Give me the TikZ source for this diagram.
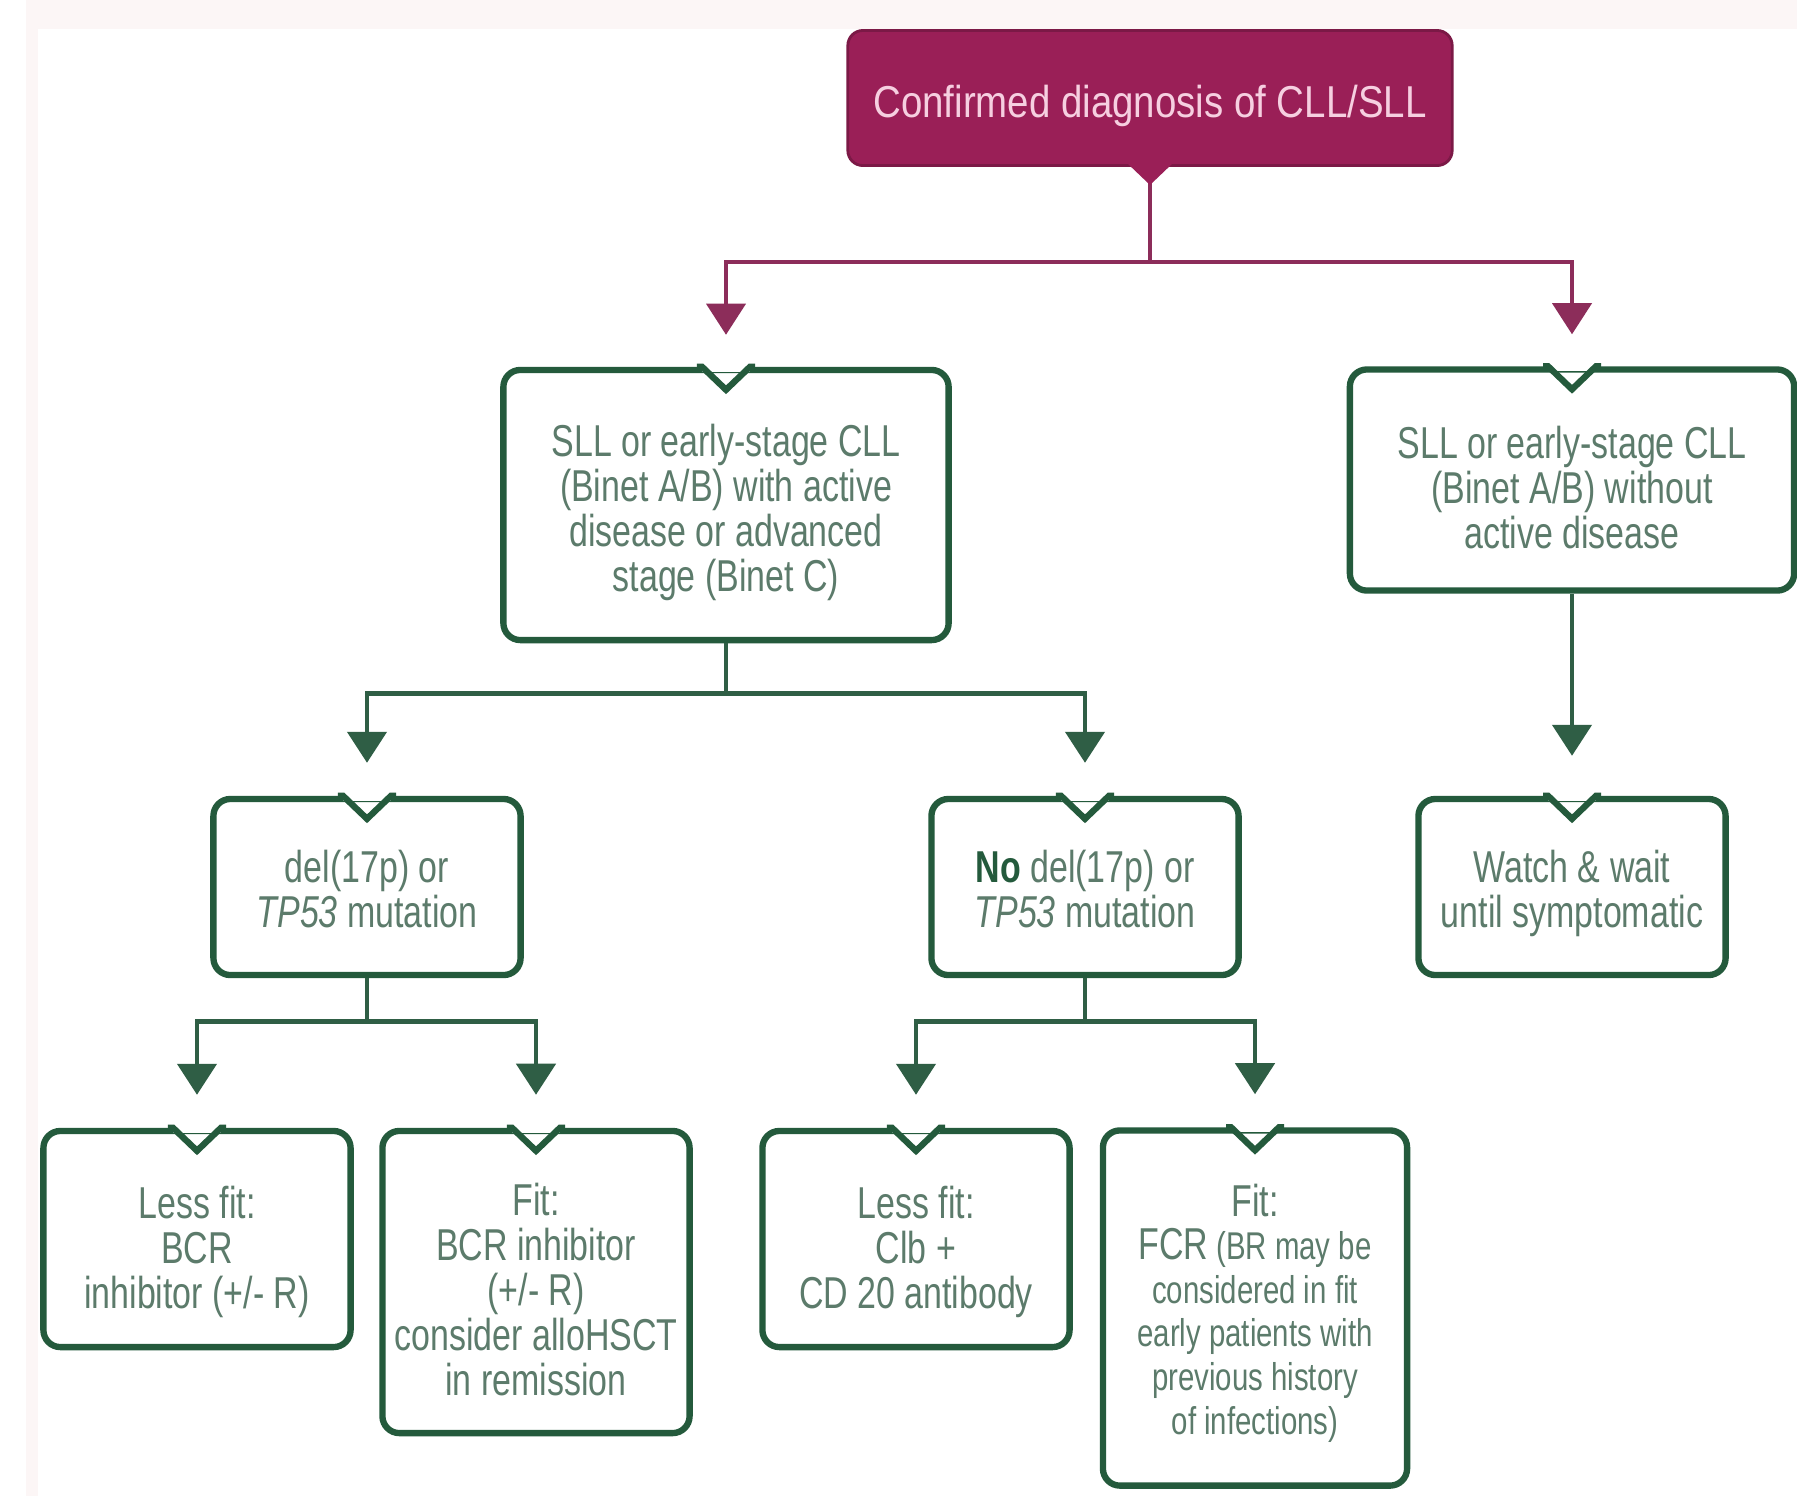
\documentclass[tikz,border=0pt]{standalone}
\usepackage{fontspec}
\setmainfont{Liberation Sans}[FakeStretch=0.76]
\newfontfamily\diagfont{Liberation Sans}[FakeStretch=0.86]
\usetikzlibrary{arrows.meta}

\definecolor{plum}{HTML}{9A1F57}
\definecolor{plumline}{HTML}{8C2D5A}
\definecolor{plumtext}{HTML}{F6CFE0}
\definecolor{fir}{HTML}{245A3C}
\definecolor{firline}{HTML}{2F5E45}
\definecolor{firtext}{HTML}{5C7B6B}
\definecolor{blush}{HTML}{FCF6F6}

\newcommand{\bigsz}{\fontsize{12.7pt}{12.8pt}\selectfont}
\newcommand{\topgap}[1]{\rule{0pt}{#1}}

\begin{document}
\begin{tikzpicture}[
				x=0.01cm, y=-0.01cm,
				every node/.style={font=\bigsz},
				box/.style={draw=fir, line width=1.8pt, rounded corners=0.17cm, fill=white,
					text=firtext, align=center, inner sep=0pt, minimum width=3.07cm},
				topbox/.style={draw=plum!80!black, line width=0.8pt, rounded corners=0.15cm, fill=plum,
					text=plumtext, font=\diagfont\bigsz, inner sep=0pt,
					minimum width=6.04cm, minimum height=1.35cm},
				mline/.style={draw=plumline, line width=1.1pt},
				marrow/.style={mline, -{Triangle[width=0.39cm,length=0.31cm]}, shorten >=0.32cm},
				gline/.style={draw=firline, line width=1.3pt},
				garrow/.style={gline, -{Triangle[width=0.39cm,length=0.31cm]}, shorten >=0.33cm}
				]
				\useasboundingbox (0,0) rectangle (1797,1496);
				\fill[blush] (26,0) rectangle (1797,1496);
				\fill[white] (38,29) rectangle (1797,1496);

				% boxes
				\node[topbox] (diag) at (1150,98) {\topgap{13.5pt}Confirmed diagnosis of CLL/SLL};
				\node[box, minimum width=4.45cm, minimum height=2.70cm] (active) at (726,505)
				{\topgap{13.5pt}SLL or early-stage CLL\\(Binet A/B) with active\\disease or advanced\\stage (Binet C)};
				\node[box, minimum width=4.44cm, minimum height=2.21cm] (inactive) at (1572,480)
				{\topgap{13.5pt}SLL or early-stage CLL\\(Binet A/B) without\\active disease};
				\node[box, minimum height=1.76cm] (del) at (367,887)
				{\topgap{10.5pt}del(17p) or\\\textit{TP53} mutation};
				\node[box, minimum height=1.76cm] (nodel) at (1085,887)
				{\topgap{10.5pt}\textcolor{fir}{\textbf{No}} del(17p) or\\\textit{TP53} mutation};
				\node[box, minimum height=1.76cm] (watch) at (1572,887)
				{\topgap{13pt}Watch \& wait\\until symptomatic};
				\node[box, minimum height=2.16cm] (lessfitA) at (197,1239)
				{\topgap{16.5pt}Less fit:\\BCR\\inhibitor (+/- R)};
				\node[box, minimum height=3.02cm] (fitA) at (536,1282)
				{\topgap{13.5pt}Fit:\\BCR inhibitor\\(+/- R)\\consider alloHSCT\\in remission};
				\node[box, minimum height=2.16cm] (lessfitB) at (916,1239)
				{\topgap{16.5pt}Less fit:\\Clb +\\CD 20 antibody};
				\node[box, minimum width=3.04cm, minimum height=3.55cm,
					font=\fontsize{11pt}{12.4pt}\selectfont] (fitB) at (1255,1308)
				{{\bigsz\topgap{12pt}Fit:}\\{\bigsz FCR} (BR may be\\considered in fit\\early patients with\\previous history\\of infections)};

				% split points
				\path (diag.south) ++(0,95) coordinate (trunk);
				\path (active.south) ++(0,50) coordinate (splitA);
				\path (del.south) ++(0,43) coordinate (splitB);
				\path (nodel.south) ++(0,43) coordinate (splitC);

				% connectors
				\draw[mline] (diag.south) -- (trunk);
				\draw[marrow] (trunk) -| (active.north);
				\draw[marrow] (trunk) -| (inactive.north);
				\draw[gline] (active.south) -- (splitA);
				\draw[garrow] (splitA) -| (del.north);
				\draw[garrow] (splitA) -| (nodel.north);
				\draw[garrow, shorten >=0.40cm] (inactive) -- (watch);
				\draw[gline] (del.south) -- (splitB);
				\draw[garrow] (splitB) -| (lessfitA.north);
				\draw[garrow] (splitB) -| (fitA.north);
				\draw[gline] (nodel.south) -- (splitC);
				\draw[garrow] (splitC) -| (lessfitB.north);
				\draw[garrow] (splitC) -| (fitB.north);

				% pointer under the first box
				\fill[plum] ([xshift=-0.22cm, yshift=0.03cm]diag.south) -- ([yshift=-0.18cm]diag.south)
				-- ([xshift=0.22cm, yshift=0.03cm]diag.south) -- cycle;

				% notches on top of the green boxes
				\foreach \n in {active,inactive,del,nodel,watch,lessfitA,fitA,lessfitB,fitB}{
					\fill[white] ([xshift=-0.24cm, yshift=0.05cm]\n.north) rectangle ([xshift=0.24cm, yshift=-0.05cm]\n.north);
					\draw[fir, line width=1.8pt] ([xshift=-0.29cm]\n.north) -- ([xshift=-0.24cm]\n.north)
					-- ([yshift=-0.23cm]\n.north) -- ([xshift=0.24cm]\n.north) -- ([xshift=0.29cm]\n.north);
				}
			\end{tikzpicture}
\end{document}
